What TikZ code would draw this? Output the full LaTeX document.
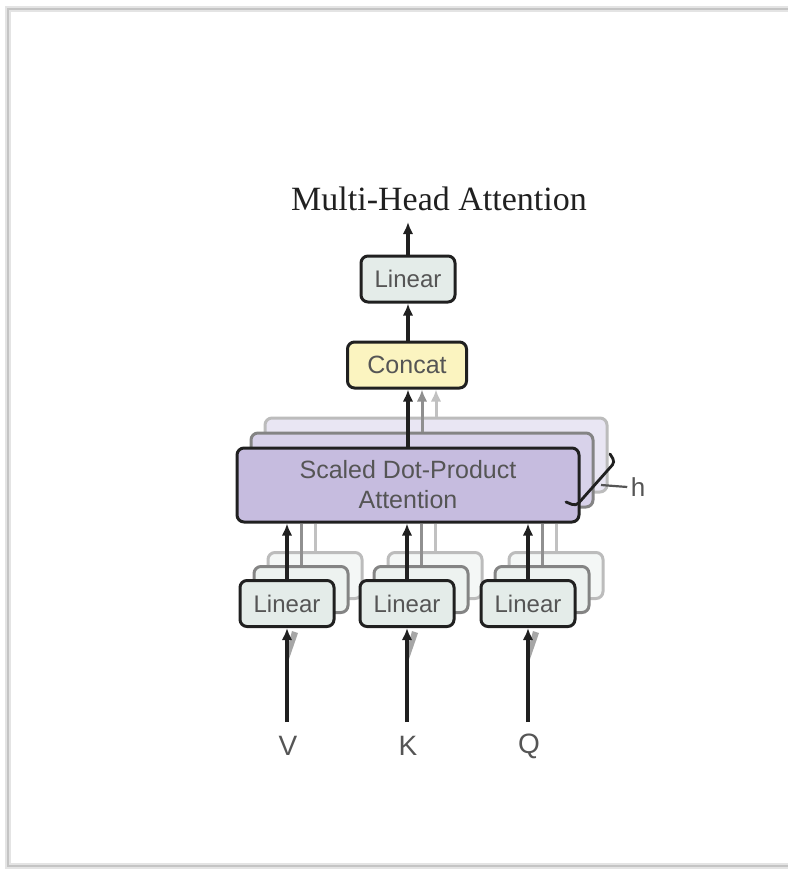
\documentclass[tikz,border=0pt]{standalone}
\usepackage{fontspec}
\setmainfont{Liberation Serif}
\setsansfont{Liberation Sans}
\usetikzlibrary{arrows.meta}
\definecolor{linfill}{HTML}{E4ECE9}
\definecolor{catfill}{HTML}{FBF4C0}
\definecolor{attfill}{HTML}{C6BCDF}
\definecolor{attfillA}{HTML}{D8D2EA}
\definecolor{attfillB}{HTML}{E9E6F3}
\definecolor{linfillA}{HTML}{EDF2F0}
\definecolor{linfillB}{HTML}{F4F7F6}
\definecolor{edge}{HTML}{202020}
\definecolor{txt}{HTML}{555555}
\definecolor{frame}{HTML}{C4C4C4}
\begin{document}
\begin{tikzpicture}[x=1pt,y=-1pt,
  block/.style={draw=edge, line width=3pt, rounded corners=7pt, inner sep=0pt,
    font=\sffamily\fontsize{24}{29}\selectfont, text=txt, align=center},
  linbox/.style={block, fill=linfill, minimum width=94pt, minimum height=46pt},
  linboxA/.style={linbox, fill=linfillA, draw=edge!55},
  linboxB/.style={linbox, fill=linfillB, draw=edge!30},
  attbox/.style={block, fill=attfill, minimum width=342pt, minimum height=74pt,
    font=\sffamily\fontsize{25}{30}\selectfont},
  attboxA/.style={attbox, fill=attfillA, draw=edge!55},
  attboxB/.style={attbox, fill=attfillB, draw=edge!30},
  flow/.style={draw=edge, line width=3.2pt, -{Latex[length=12pt,width=10.5pt]}},
  flowA/.style={draw=edge!50, line width=3pt, -{Latex[length=12pt,width=10.5pt]}},
  flowB/.style={draw=edge!28, line width=3pt, -{Latex[length=12pt,width=10.5pt]}},
  feed/.style={line width=3pt},
  inlabel/.style={font=\sffamily\fontsize{28}{32}\selectfont, text=txt},
]
\useasboundingbox (0,0) rectangle (787,869);

% page frame with a soft shadow
\draw[frame!45, line width=6pt] (795,9) -- (8,9) -- (8,866) -- (795,866);
\draw[frame, line width=2pt] (795,9) -- (8,9) -- (8,866) -- (795,866);

% title
\node[font=\fontsize{34}{40}\selectfont, text=edge] (title) at (439,199) {Multi-Head Attention};

% output stage
\node[linbox] (outlin) at (408,279) {Linear};
\node[block, fill=catfill, minimum width=119pt, minimum height=46pt,
  font=\sffamily\fontsize{25}{30}\selectfont] (concat) at (407,365) {Concat};
\coordinate (outtop) at (408,222);
\draw[flow] (outlin.north) -- (outtop);
\draw[flow] (outlin.south |- concat.north) -- (outlin.south);

% stacked attention heads
\node[attboxB] (attB) at (436,455) {};
\node[attboxA] (attA) at (422,470) {};
\node[attbox] (att) at (408,485) {Scaled Dot-Product\\Attention};

\draw[flowB] (attB.north) -- (attB.north |- concat.south);
\draw[flowA] (attA.north) -- (attA.north |- concat.south);
\draw[flow] (att.north) -- (att.north |- concat.south);

% h bracket
\coordinate (hb1) at (566,502);
\coordinate (hb2) at (576,506);
\coordinate (hb3) at (615,462);
\coordinate (hb4) at (610,454);
\draw[edge, line width=2.8pt, line cap=round, rounded corners=4pt]
  (hb1) -- (hb2) -- (hb3) -- (hb4);
\node[inlabel, font=\sffamily\fontsize{26}{30}\selectfont] (hlab) at (638,487) {h};
\coordinate (htick) at (601,485);
\draw[txt, line width=2.2pt] (htick) -- (hlab.west);

% input projections
\foreach \nm/\x/\lab in {V/287/V, K/407/K, Q/528/Q}{
  \node[linboxB] (\nm B) at (\x+28,575.5) {};
  \node[linboxA] (\nm A) at (\x+14,589.5) {};
  \draw[feed, edge!28] (\nm B.north) -- (\nm B.north |- att.south);
  \draw[feed, edge!50] (\nm A.north) -- (\nm A.north |- att.south);
  \node[linbox] (\nm L) at (\x,603.5) {Linear};
  \draw[flow] (\nm L.north) -- (\nm L.north |- att.south);
  \node[inlabel] (\nm in) at (\x+1,746) {\lab};
  \coordinate (\nm src) at (\x,722);
  % faint shadow of the stacked inputs
  \fill[edge!40] (\x+1,662) -- (\x+11,633) -- (\x+5,631) -- (\x,650) -- cycle;
  \draw[flow] (\nm src) -- (\nm L.south);
}
\end{tikzpicture}
\end{document}
